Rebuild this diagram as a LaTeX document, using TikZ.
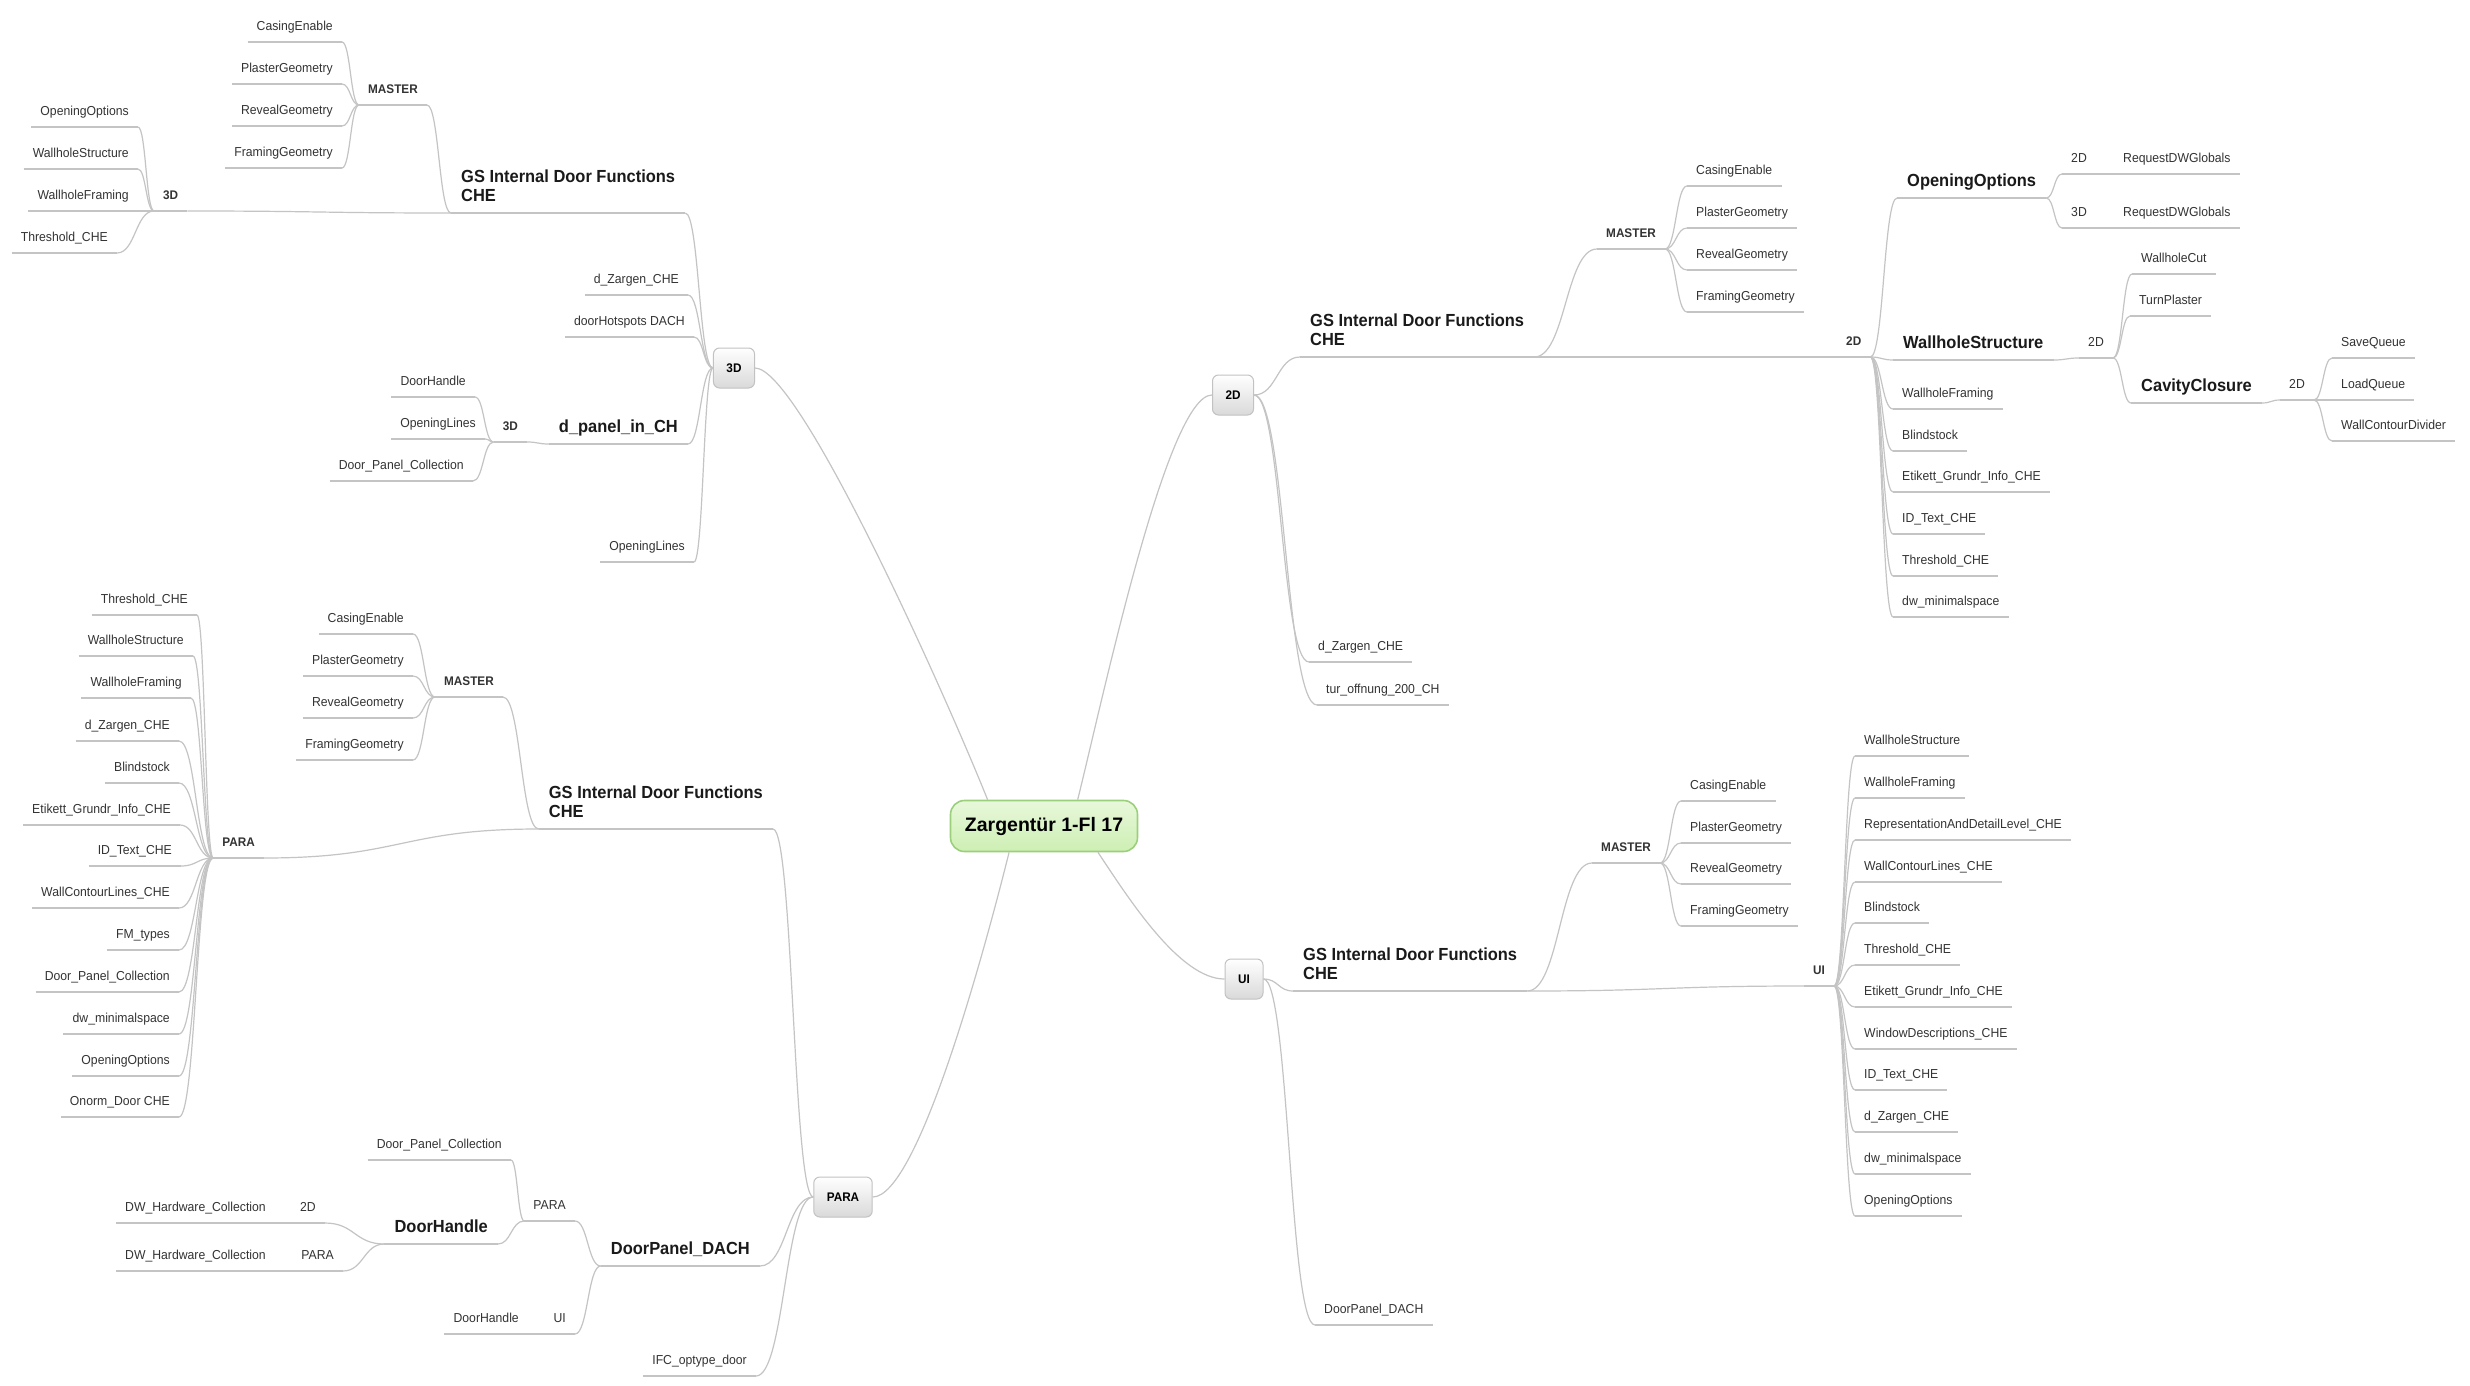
\documentclass[tikz,border=0pt]{standalone}
\usepackage{xcolor}
\usepackage{fontspec}
\usepackage{tikz}
\usetikzlibrary{calc}
\setmainfont{Liberation Sans}[FakeStretch=0.94]
\newfontfamily\centrefont{Liberation Sans}
\definecolor{linkgray}{HTML}{C4C4C4}
\definecolor{leafgray}{HTML}{333333}
\definecolor{topicblack}{HTML}{1A1A1A}
\definecolor{centreline}{HTML}{9CCF7C}
\definecolor{centretop}{HTML}{E8F8DB}
\definecolor{centrebot}{HTML}{CDEFB3}
\definecolor{hubline}{HTML}{C2C2C2}
\definecolor{hubbot}{HTML}{D9D9D9}
\tikzset{
	leaf/.style={font=\fontsize{13}{15}\selectfont, text=leafgray, inner xsep=9pt, inner ysep=7pt, text height=10pt, text depth=4pt,
		append after command={(\tikzlastnode.south west) edge[draw=linkgray, line width=1.3pt] (\tikzlastnode.south east)}},
	tag/.style={leaf, font=\bfseries\fontsize{12.5}{15}\selectfont},
	topic/.style={leaf, font=\bfseries\fontsize{17.5}{19.5}\selectfont, text=topicblack, align=left, inner xsep=10pt, text height=13pt},
	hub/.style={rounded corners=6pt, draw=hubline, line width=1pt, top color=white, bottom color=hubbot, font=\bfseries\fontsize{12.5}{15}\selectfont, inner xsep=13pt, minimum width=38pt, minimum height=40pt},
	centre/.style={rounded corners=14pt, draw=centreline, line width=1.6pt, top color=centretop, bottom color=centrebot, font=\centrefont\bfseries\fontsize{19.5}{22}\selectfont, minimum width=187pt, minimum height=51pt},
	link/.style={draw=linkgray, line width=1.2pt, to path={let \p1=(\tikztostart), \p2=(\tikztotarget) in .. controls ({(\x1+\x2)/2},\y1) and ({(\x1+\x2)/2},\y2) .. (\tikztotarget)}}
}
\begin{document}
\begin{tikzpicture}[x=1pt, y=-1pt]
	\useasboundingbox[fill=white] (0,0) rectangle (2470,1386);
	\node[centre] (r) at (1044,826) {Zargentür 1-Fl 17};
	\node[hub] (b3) at (734,368) {3D};
	\node[hub] (b2) at (1233,395) {2D};
	\node[hub] (bu) at (1244,979) {UI};
	\node[hub] (bp) at (843,1197) {PARA};

	\node[topic, anchor=south west] (g1) at (451,213) {GS Internal Door Functions\\CHE};
	\node[tag, anchor=south west] (m1) at (359,105) {MASTER};
	\node[leaf, anchor=south east] (m1a) at (342,42) {CasingEnable};
	\node[leaf, anchor=south east] (m1b) at (342,84) {PlasterGeometry};
	\node[leaf, anchor=south east] (m1c) at (342,126) {RevealGeometry};
	\node[leaf, anchor=south east] (m1d) at (342,168) {FramingGeometry};
	\node[tag, anchor=south west] (d1) at (154,211) {3D};
	\node[leaf, anchor=south east] (d1a) at (138,127) {OpeningOptions};
	\node[leaf, anchor=south east] (d1b) at (138,169) {WallholeStructure};
	\node[leaf, anchor=south east] (d1c) at (138,211) {WallholeFraming};
	\node[leaf, anchor=south east] (d1d) at (117,253) {Threshold\_CHE};
	\node[leaf, anchor=south east] (e1) at (688,295) {d\_Zargen\_CHE};
	\node[leaf, anchor=south east] (e2) at (694,337) {doorHotspots DACH};
	\node[topic, anchor=south east] (p1) at (688,444) {d\_panel\_in\_CH};
	\node[tag, anchor=south east] (d2) at (527,442) {3D};
	\node[leaf, anchor=south east] (d2a) at (475,397) {DoorHandle};
	\node[leaf, anchor=south east] (d2b) at (485,439) {OpeningLines};
	\node[leaf, anchor=south east] (d2c) at (473,481) {Door\_Panel\_Collection};
	\node[leaf, anchor=south east] (e3) at (694,562) {OpeningLines};

	\node[topic, anchor=south west] (g2) at (1300,357) {GS Internal Door Functions\\CHE};
	\node[leaf, anchor=south west] (f1) at (1309,662) {d\_Zargen\_CHE};
	\node[leaf, anchor=south west] (f2) at (1317,705) {tur\_offnung\_200\_CH};
	\node[tag, anchor=south west] (m2) at (1597,249) {MASTER};
	\node[leaf, anchor=south west] (m2a) at (1687,186) {CasingEnable};
	\node[leaf, anchor=south west] (m2b) at (1687,228) {PlasterGeometry};
	\node[leaf, anchor=south west] (m2c) at (1687,270) {RevealGeometry};
	\node[leaf, anchor=south west] (m2d) at (1687,312) {FramingGeometry};
	\node[tag, anchor=south west] (t2) at (1837,357) {2D};
	\node[topic, anchor=south west] (o1) at (1897,198) {OpeningOptions};
	\node[leaf, anchor=south west] (o1a) at (2062,174) {2D};
	\node[leaf, anchor=south west] (o1b) at (2114,174) {RequestDWGlobals};
	\node[leaf, anchor=south west] (o1c) at (2062,228) {3D};
	\node[leaf, anchor=south west] (o1d) at (2114,228) {RequestDWGlobals};
	\node[topic, anchor=south west] (w1) at (1893,360) {WallholeStructure};
	\node[leaf, anchor=south west] (w2) at (2079,358) {2D};
	\node[leaf, anchor=south west] (w2a) at (2132,274) {WallholeCut};
	\node[leaf, anchor=south west] (w2b) at (2130,316) {TurnPlaster};
	\node[topic, anchor=south west] (c1) at (2131,403) {CavityClosure};
	\node[leaf, anchor=south west] (c2) at (2280,400) {2D};
	\node[leaf, anchor=south west] (c2a) at (2332,358) {SaveQueue};
	\node[leaf, anchor=south west] (c2b) at (2332,400) {LoadQueue};
	\node[leaf, anchor=south west] (c2c) at (2332,441) {WallContourDivider};
	\node[leaf, anchor=south west] (t2a) at (1893,409) {WallholeFraming};
	\node[leaf, anchor=south west] (t2b) at (1893,451) {Blindstock};
	\node[leaf, anchor=south west] (t2c) at (1893,492) {Etikett\_Grundr\_Info\_CHE};
	\node[leaf, anchor=south west] (t2d) at (1893,534) {ID\_Text\_CHE};
	\node[leaf, anchor=south west] (t2e) at (1893,576) {Threshold\_CHE};
	\node[leaf, anchor=south west] (t2f) at (1893,617) {dw\_minimalspace};

	\node[topic, anchor=south west] (g3) at (1293,991) {GS Internal Door Functions\\CHE};
	\node[leaf, anchor=south west] (u1) at (1315,1325) {DoorPanel\_DACH};
	\node[tag, anchor=south west] (m3) at (1592,863) {MASTER};
	\node[leaf, anchor=south west] (m3a) at (1681,801) {CasingEnable};
	\node[leaf, anchor=south west] (m3b) at (1681,843) {PlasterGeometry};
	\node[leaf, anchor=south west] (m3c) at (1681,884) {RevealGeometry};
	\node[leaf, anchor=south west] (m3d) at (1681,926) {FramingGeometry};
	\node[tag, anchor=south west] (t3) at (1804,986) {UI};
	\node[leaf, anchor=south west] (t3a) at (1855,756) {WallholeStructure};
	\node[leaf, anchor=south west] (t3b) at (1855,798) {WallholeFraming};
	\node[leaf, anchor=south west] (t3c) at (1855,840) {RepresentationAndDetailLevel\_CHE};
	\node[leaf, anchor=south west] (t3d) at (1855,882) {WallContourLines\_CHE};
	\node[leaf, anchor=south west] (t3e) at (1855,923) {Blindstock};
	\node[leaf, anchor=south west] (t3f) at (1855,965) {Threshold\_CHE};
	\node[leaf, anchor=south west] (t3g) at (1855,1007) {Etikett\_Grundr\_Info\_CHE};
	\node[leaf, anchor=south west] (t3h) at (1855,1049) {WindowDescriptions\_CHE};
	\node[leaf, anchor=south west] (t3i) at (1855,1090) {ID\_Text\_CHE};
	\node[leaf, anchor=south west] (t3j) at (1855,1132) {d\_Zargen\_CHE};
	\node[leaf, anchor=south west] (t3k) at (1855,1174) {dw\_minimalspace};
	\node[leaf, anchor=south west] (t3l) at (1855,1216) {OpeningOptions};

	\node[topic, anchor=south east] (g4) at (773,829) {GS Internal Door Functions\\CHE};
	\node[tag, anchor=south east] (m4) at (503,697) {MASTER};
	\node[leaf, anchor=south east] (m4a) at (413,634) {CasingEnable};
	\node[leaf, anchor=south east] (m4b) at (413,676) {PlasterGeometry};
	\node[leaf, anchor=south east] (m4c) at (413,718) {RevealGeometry};
	\node[leaf, anchor=south east] (m4d) at (413,760) {FramingGeometry};
	\node[tag, anchor=south east] (t4) at (264,858) {PARA};
	\node[leaf, anchor=south east] (t4a) at (197,615) {Threshold\_CHE};
	\node[leaf, anchor=south east] (t4b) at (193,656) {WallholeStructure};
	\node[leaf, anchor=south east] (t4c) at (191,698) {WallholeFraming};
	\node[leaf, anchor=south east] (t4d) at (179,741) {d\_Zargen\_CHE};
	\node[leaf, anchor=south east] (t4e) at (179,783) {Blindstock};
	\node[leaf, anchor=south east] (t4f) at (180,825) {Etikett\_Grundr\_Info\_CHE};
	\node[leaf, anchor=south east] (t4g) at (181,866) {ID\_Text\_CHE};
	\node[leaf, anchor=south east] (t4h) at (179,908) {WallContourLines\_CHE};
	\node[leaf, anchor=south east] (t4i) at (179,950) {FM\_types};
	\node[leaf, anchor=south east] (t4j) at (179,992) {Door\_Panel\_Collection};
	\node[leaf, anchor=south east] (t4k) at (179,1034) {dw\_minimalspace};
	\node[leaf, anchor=south east] (t4l) at (179,1076) {OpeningOptions};
	\node[leaf, anchor=south east] (t4m) at (179,1117) {Onorm\_Door CHE};
	\node[topic, anchor=south east] (k1) at (760,1266) {DoorPanel\_DACH};
	\node[leaf, anchor=south east] (k2) at (575,1221) {PARA};
	\node[leaf, anchor=south east] (k2a) at (511,1160) {Door\_Panel\_Collection};
	\node[topic, anchor=south east] (h1) at (498,1244) {DoorHandle};
	\node[leaf, anchor=south east] (h2) at (325,1223) {2D};
	\node[leaf, anchor=south east] (h2a) at (275,1223) {DW\_Hardware\_Collection};
	\node[leaf, anchor=south east] (h3) at (343,1271) {PARA};
	\node[leaf, anchor=south east] (h3a) at (275,1271) {DW\_Hardware\_Collection};
	\node[leaf, anchor=south east] (k3) at (575,1334) {UI};
	\node[leaf, anchor=south east] (k3a) at (528,1334) {DoorHandle};
	\node[leaf, anchor=south east] (i1) at (756,1376) {IFC\_optype\_door};

	\draw[link] (r.155) .. controls +(-40,-100) and +(45,0) .. (b3.east);
	\draw[link] (r.38) .. controls +(25,-100) and +(-45,0) .. (b2.west);
	\draw[link] (r.217) .. controls +(-25,100) and +(45,0) .. (bp.east);
	\draw[link] (r.334) .. controls +(30,45) and +(-45,0) .. (bu.west);

	\draw[link] (b3.west) edge (g1.south east) edge (e1.south east) edge (e2.south east) edge (p1.south east) edge (e3.south east);
	\draw[link] (g1.south west) edge (m1.south east) edge (d1.south east);
	\draw[link] (m1.south west) edge (m1a.south east) edge (m1b.south east) edge (m1c.south east) edge (m1d.south east);
	\draw[link] (d1.south west) edge (d1a.south east) edge (d1b.south east) edge (d1c.south east) edge (d1d.south east);
	\draw[link] (p1.south west) edge (d2.south east);
	\draw[link] (d2.south west) edge (d2a.south east) edge (d2b.south east) edge (d2c.south east);

	\draw[link] (b2.east) edge (g2.south west) edge (f1.south west) edge (f2.south west);
	\draw[link] (g2.south east) edge (m2.south west) edge (t2.south west);
	\draw[link] (m2.south east) edge (m2a.south west) edge (m2b.south west) edge (m2c.south west) edge (m2d.south west);
	\draw[link] (t2.south east) edge (o1.south west) edge (w1.south west) edge (t2a.south west) edge (t2b.south west) edge (t2c.south west) edge (t2d.south west) edge (t2e.south west) edge (t2f.south west);
	\draw[link] (o1.south east) edge (o1a.south west) edge (o1c.south west);
	\draw[link] (o1a.south east) edge (o1b.south west);
	\draw[link] (o1c.south east) edge (o1d.south west);
	\draw[link] (w1.south east) edge (w2.south west);
	\draw[link] (w2.south east) edge (w2a.south west) edge (w2b.south west) edge (c1.south west);
	\draw[link] (c1.south east) edge (c2.south west);
	\draw[link] (c2.south east) edge (c2a.south west) edge (c2b.south west) edge (c2c.south west);

	\draw[link] (bu.east) edge (g3.south west) edge (u1.south west);
	\draw[link] (g3.south east) edge (m3.south west) edge (t3.south west);
	\draw[link] (m3.south east) edge (m3a.south west) edge (m3b.south west) edge (m3c.south west) edge (m3d.south west);
	\draw[link] (t3.south east) edge (t3a.south west) edge (t3b.south west) edge (t3c.south west) edge (t3d.south west) edge (t3e.south west) edge (t3f.south west) edge (t3g.south west) edge (t3h.south west) edge (t3i.south west) edge (t3j.south west) edge (t3k.south west) edge (t3l.south west);

	\draw[link] (bp.west) edge (g4.south east) edge (k1.south east) edge (i1.south east);
	\draw[link] (g4.south west) edge (m4.south east) edge (t4.south east);
	\draw[link] (m4.south west) edge (m4a.south east) edge (m4b.south east) edge (m4c.south east) edge (m4d.south east);
	\draw[link] (t4.south west) edge (t4a.south east) edge (t4b.south east) edge (t4c.south east) edge (t4d.south east) edge (t4e.south east) edge (t4f.south east) edge (t4g.south east) edge (t4h.south east) edge (t4i.south east) edge (t4j.south east) edge (t4k.south east) edge (t4l.south east) edge (t4m.south east);
	\draw[link] (k1.south west) edge (k2.south east) edge (k3.south east);
	\draw[link] (k2.south west) edge (k2a.south east) edge (h1.south east);
	\draw[link] (h1.south west) edge (h2.south east) edge (h3.south east);
	\draw[link] (h2.south west) edge (h2a.south east);
	\draw[link] (h3.south west) edge (h3a.south east);
	\draw[link] (k3.south west) edge (k3a.south east);
\end{tikzpicture}
\end{document}
